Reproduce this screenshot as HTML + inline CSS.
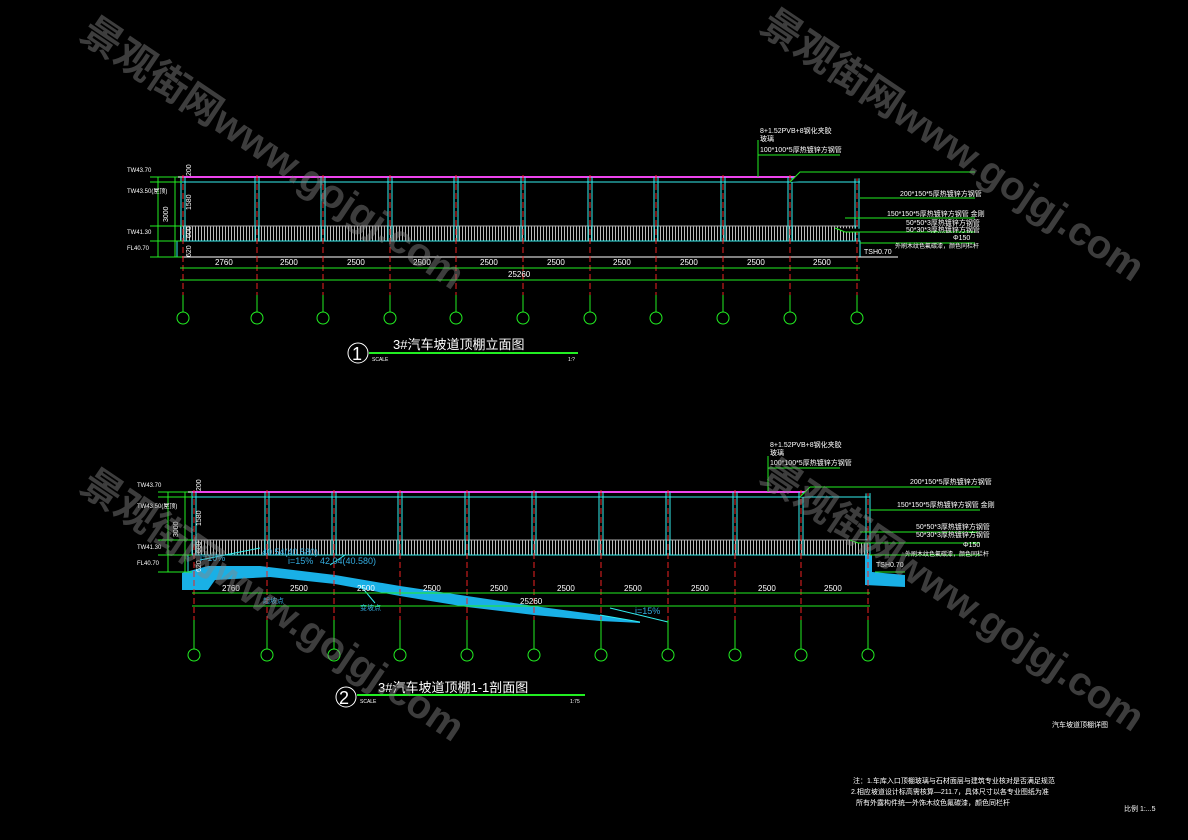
<!DOCTYPE html>
<html><head><meta charset="utf-8"><style>
html,body{margin:0;padding:0;background:#000;}
svg{display:block}
text{font-family:"Liberation Sans","Noto Sans CJK SC",sans-serif;}
</style></head><body>
<svg width="1188" height="840" viewBox="0 0 1188 840" xmlns="http://www.w3.org/2000/svg">
<defs>
<pattern id="rail" width="3" height="20" patternUnits="userSpaceOnUse"><rect x="0" y="0" width="1" height="20" fill="#bbb"/></pattern>
</defs>
<rect width="1188" height="840" fill="#000"/>

<!-- ===== Elevation 1 ===== -->
<g>
<rect x="180" y="226" width="678" height="15" fill="url(#rail)"/>
<line x1="180" y1="226" x2="858" y2="226" stroke="#aaa" stroke-width="1"/>
<rect x="177" y="241" width="683" height="16" fill="none" stroke="#3ee" stroke-width="1"/>
<line x1="178" y1="177" x2="860" y2="177" stroke="#e4e" stroke-width="2"/>
<line x1="178" y1="182" x2="860" y2="182" stroke="#3ee" stroke-width="1"/>
<line x1="150" y1="257" x2="898" y2="257" stroke="#fff" stroke-width="1"/>
<g stroke="#3ee" stroke-width="1">
<path d="M181 177V241M185 177V241M255 177V241M259 177V241M321 177V241M325 177V241M388 177V241M392 177V241M454 177V241M458 177V241M521 177V241M525 177V241M588 177V241M592 177V241M654 177V241M658 177V241M721 177V241M725 177V241M788 177V241M792 177V241M855 177V241M859 177V241"/>
</g>
<g stroke="#e22" stroke-width="1" stroke-dasharray="6,3">
<path d="M183 175V310M257 175V310M323 175V310M390 175V310M456 175V310M523 175V310M590 175V310M656 175V310M723 175V310M790 175V310M857 175V310"/>
</g>
<g stroke="#2e2" stroke-width="1">
<line x1="180" y1="268" x2="860" y2="268"/>
<line x1="180" y1="280" x2="860" y2="280"/>
<path d="M183 295V312M257 295V312M323 295V312M390 295V312M456 295V312M523 295V312M590 295V312M656 295V312M723 295V312M790 295V312M857 295V312"/>
<g fill="none"><circle cx="183" cy="318" r="6"/><circle cx="257" cy="318" r="6"/><circle cx="323" cy="318" r="6"/><circle cx="390" cy="318" r="6"/><circle cx="456" cy="318" r="6"/><circle cx="523" cy="318" r="6"/><circle cx="590" cy="318" r="6"/><circle cx="656" cy="318" r="6"/><circle cx="723" cy="318" r="6"/><circle cx="790" cy="318" r="6"/><circle cx="857" cy="318" r="6"/></g>
<line x1="175" y1="177" x2="175" y2="257"/><line x1="158" y1="257" x2="158" y2="177"/>
<path d="M150 177H182M150 182H182M150 226H182M150 241H182M150 257H182"/>
<line x1="758" y1="140" x2="758" y2="177"/><line x1="758" y1="155" x2="840" y2="155"/>
<path d="M790 182L800 172H975M860 198H975M845 218H975M835 228L845 232H975M860 243H975"/>
</g>
<g fill="#fff" font-size="8">
<text x="215" y="265">2760</text><text x="280" y="265">2500</text><text x="347" y="265">2500</text><text x="413" y="265">2500</text><text x="480" y="265">2500</text><text x="547" y="265">2500</text><text x="613" y="265">2500</text><text x="680" y="265">2500</text><text x="747" y="265">2500</text><text x="813" y="265">2500</text>
<text x="508" y="277">25260</text>
<text x="127" y="172" font-size="6">TW43.70</text><text x="127" y="193" font-size="6">TW43.50(屋顶)</text><text x="127" y="234" font-size="6">TW41.30</text><text x="127" y="250" font-size="6">FL40.70</text>
<text transform="translate(168,222) rotate(-90)" font-size="7">3000</text>
<text transform="translate(191,210) rotate(-90)" font-size="7">1580</text>
<text transform="translate(191,176) rotate(-90)" font-size="7">200</text>
<text transform="translate(191,238) rotate(-90)" font-size="7">600</text>
<text transform="translate(191,257) rotate(-90)" font-size="7">620</text>
<text x="760" y="133" font-size="7">8+1.52PVB+8钢化夹胶</text><text x="760" y="141" font-size="7">玻璃</text>
<text x="760" y="152" font-size="7">100*100*5厚热镀锌方钢管</text>
<text x="900" y="196" font-size="7">200*150*5厚热镀锌方钢管</text>
<text x="887" y="216" font-size="7">150*150*5厚热镀锌方钢管 金刚</text>
<text x="906" y="225" font-size="7">50*50*3厚热镀锌方钢管</text>
<text x="906" y="232" font-size="7">50*30*3厚热镀锌方钢管</text>
<text x="953" y="240" font-size="7">Φ150</text>
<text x="895" y="248" font-size="6">外刷木纹色氟碳漆，颜色同栏杆</text>
<text x="864" y="254" font-size="7">TSH0.70</text>
</g>
<circle cx="358" cy="353" r="10" fill="none" stroke="#fff" stroke-width="1"/>
<text x="352" y="360" fill="#fff" font-size="18">1</text>
<line x1="369" y1="353" x2="578" y2="353" stroke="#2e2" stroke-width="2"/>
<text x="393" y="349" fill="#fff" font-size="13">3#汽车坡道顶棚立面图</text>
<text x="372" y="361" fill="#fff" font-size="5">SCALE</text><text x="568" y="361" fill="#fff" font-size="5">1:?</text>
</g>

<!-- ===== Section 2 ===== -->
<g>
<path d="M182 573L208 566L260 566L335 575L400 586L467 596L534 606L600 615L640 622L640 623L600 621L534 615L467 607L400 596L335 584L270 577L215 580L208 590L182 590Z" fill="#19b0e6"/>
<path d="M865 555H872V572L905 575V587L865 585Z" fill="#19b0e6"/>
<rect x="190" y="540" width="678" height="15" fill="url(#rail)"/>
<line x1="190" y1="540" x2="868" y2="540" stroke="#aaa"/>
<line x1="188" y1="555" x2="870" y2="555" stroke="#3ee"/>
<line x1="188" y1="555" x2="188" y2="572" stroke="#3ee"/>
<line x1="188" y1="492" x2="870" y2="492" stroke="#e4e" stroke-width="2"/>
<line x1="188" y1="497" x2="870" y2="497" stroke="#3ee"/>
<g stroke="#3ee" stroke-width="1">
<path d="M192 492V555M196 492V555M265 492V555M269 492V555M332 492V555M336 492V555M398 492V555M402 492V555M465 492V555M469 492V555M532 492V555M536 492V555M599 492V555M603 492V555M666 492V555M670 492V555M733 492V555M737 492V555M799 492V555M803 492V555M866 492V555M870 492V555"/>
<path d="M600 615L640 622M610 608L668 622M200 560L260 548M330 565L345 555H440M360 585L375 603"/>
</g>
<g stroke="#e22" stroke-width="1" stroke-dasharray="6,3">
<path d="M194 490V646M267 490V646M334 490V646M400 490V646M467 490V646M534 490V646M601 490V646M668 490V646M735 490V646M801 490V646M868 490V646"/>
</g>
<g stroke="#2e2" stroke-width="1">
<line x1="192" y1="593" x2="870" y2="593"/>
<line x1="192" y1="606" x2="870" y2="606"/>
<path d="M194 620V649M267 620V649M334 620V649M400 620V649M467 620V649M534 620V649M601 620V649M668 620V649M735 620V649M801 620V649M868 620V649"/>
<g fill="none"><circle cx="194" cy="655" r="6"/><circle cx="267" cy="655" r="6"/><circle cx="334" cy="655" r="6"/><circle cx="400" cy="655" r="6"/><circle cx="467" cy="655" r="6"/><circle cx="534" cy="655" r="6"/><circle cx="601" cy="655" r="6"/><circle cx="668" cy="655" r="6"/><circle cx="735" cy="655" r="6"/><circle cx="801" cy="655" r="6"/><circle cx="868" cy="655" r="6"/></g>
<line x1="185" y1="492" x2="185" y2="572"/><line x1="168" y1="572" x2="168" y2="492"/>
<path d="M158 492H192M158 497H192M158 540H192M158 555H192M158 572H192"/>
<line x1="768" y1="456" x2="768" y2="492"/><line x1="768" y1="468" x2="840" y2="468"/>
<path d="M800 497L810 487H980M870 510H980M860 532H980M850 540L858 543H980M870 555H980M875 572H905"/>
</g>
<g fill="#fff" font-size="8">
<text x="222" y="591">2760</text><text x="290" y="591">2500</text><text x="357" y="591">2500</text><text x="423" y="591">2500</text><text x="490" y="591">2500</text><text x="557" y="591">2500</text><text x="624" y="591">2500</text><text x="691" y="591">2500</text><text x="758" y="591">2500</text><text x="824" y="591">2500</text>
<text x="520" y="604">25260</text>
<text x="137" y="487" font-size="6">TW43.70</text><text x="137" y="508" font-size="6">TW43.50(屋顶)</text><text x="137" y="549" font-size="6">TW41.30</text><text x="137" y="565" font-size="6">FL40.70</text>
<text transform="translate(178,537) rotate(-90)" font-size="7">3000</text>
<text transform="translate(201,526) rotate(-90)" font-size="7">1580</text>
<text transform="translate(201,491) rotate(-90)" font-size="7">200</text>
<text transform="translate(201,553) rotate(-90)" font-size="7">600</text>
<text transform="translate(201,572) rotate(-90)" font-size="7">620</text>
<text x="770" y="447" font-size="7">8+1.52PVB+8钢化夹胶</text><text x="770" y="455" font-size="7">玻璃</text>
<text x="770" y="465" font-size="7">100*100*5厚热镀锌方钢管</text>
<text x="910" y="484" font-size="7">200*150*5厚热镀锌方钢管</text>
<text x="897" y="507" font-size="7">150*150*5厚热镀锌方钢管 金刚</text>
<text x="916" y="529" font-size="7">50*50*3厚热镀锌方钢管</text>
<text x="916" y="537" font-size="7">50*30*3厚热镀锌方钢管</text>
<text x="963" y="547" font-size="7">Φ150</text>
<text x="905" y="556" font-size="6">外刷木纹色氟碳漆，颜色同栏杆</text>
<text x="876" y="567" font-size="7">TSH0.70</text>
</g>
<g fill="#3ad" font-size="9">
<text x="200" y="561">i=10%</text><text x="262" y="555">40.54(40.580)</text>
<text x="288" y="564">i=15%</text><text x="320" y="564">42.04(40.580)</text>
<text x="263" y="603" font-size="7">起坡点</text><text x="360" y="610" font-size="7">变坡点</text>
<text x="635" y="614">i=15%</text>
</g>
<circle cx="346" cy="697" r="10" fill="none" stroke="#fff"/>
<text x="339" y="704" fill="#fff" font-size="18">2</text>
<line x1="357" y1="695" x2="585" y2="695" stroke="#2e2" stroke-width="2"/>
<text x="378" y="692" fill="#fff" font-size="13">3#汽车坡道顶棚1-1剖面图</text>
<text x="360" y="703" fill="#fff" font-size="5">SCALE</text><text x="570" y="703" fill="#fff" font-size="5">1:75</text>
</g>

<!-- notes -->
<g fill="#fff" font-size="7">
<text x="1052" y="727">汽车坡道顶棚详图</text>
<text x="853" y="783">注：1.车库入口顶棚玻璃与石材面层与建筑专业核对是否满足规范</text>
<text x="851" y="794">2.相应坡道设计标高需核算—211.7，具体尺寸以各专业图纸为准</text>
<text x="856" y="805">所有外露构件统一外饰木纹色氟碳漆，颜色同栏杆</text>
<text x="1124" y="811">比例 1:...5</text>
</g>

<!-- watermarks -->
<g fill="#888" fill-opacity="0.45" font-size="40" font-weight="bold" font-family="'Liberation Sans','Noto Sans CJK SC',sans-serif">
<text transform="translate(78,38) rotate(34)">景观街网www.gojgj.com</text>
<text transform="translate(758,30) rotate(34)">景观街网www.gojgj.com</text>
<text transform="translate(78,490) rotate(34)">景观街网www.gojgj.com</text>
<text transform="translate(758,480) rotate(34)">景观街网www.gojgj.com</text>
</g>
</svg>
</body></html>
